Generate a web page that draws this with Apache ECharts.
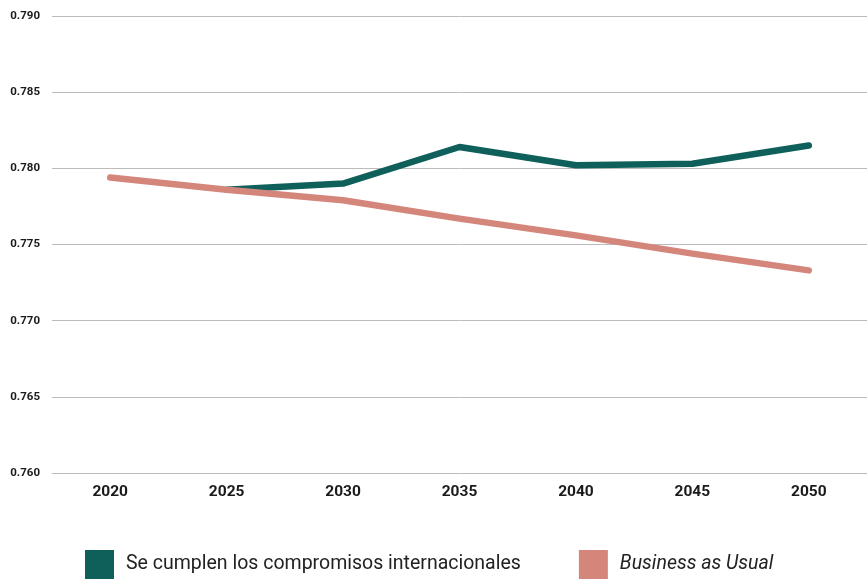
<!DOCTYPE html>
<html>
<head>
<meta charset="utf-8">
<script src="https://cdn.jsdelivr.net/npm/echarts@6/dist/echarts.min.js"></script>
<style>
html,body{margin:0;padding:0;background:#fff;}
#c{width:867px;height:580px;}
</style>
</head>
<body>
<div id="c"></div>
<script>
const years = ['2020','2025','2030','2035','2040','2045','2050'];
const compromisos = [null, 0.7786, 0.7790, 0.7814, 0.7802, 0.7803, 0.7815];
const business = [0.7794, 0.7786, 0.7779, 0.7767, 0.7756, 0.7744, 0.7733];
const yTicks = {min: 0.760, max: 0.790, interval: 0.005};
const names = ['Se cumplen los compromisos internacionales', 'Business as Usual'];

const chart = echarts.init(document.getElementById('c'));
chart.setOption({
  backgroundColor: '#ffffff',
  animation: false,
  textStyle: {fontFamily: 'Roboto'},
  grid: {left: 52, width: 819, top: 16, bottom: 107, containLabel: false},
  legend: {
    top: 550, left: 85, padding: 0,
    itemWidth: 29, itemHeight: 29, itemGap: 58,
    icon: 'rect',
    textStyle: {fontSize: 19.5, color: '#222', fontFamily: 'Roboto', padding: [5, 0, 0, 7]},
    data: [
      {name: names[0]},
      {name: names[1], textStyle: {fontStyle: 'italic'}}
    ]
  },
  xAxis: {
    type: 'category',
    data: years,
    boundaryGap: true,
    axisLine: {show: false},
    axisTick: {show: false},
    axisLabel: {fontSize: 15.5, fontWeight: 'bold', color: '#1a1a1a', margin: 11}
  },
  yAxis: {
    type: 'value',
    min: yTicks.min, max: yTicks.max, interval: yTicks.interval,
    axisLabel: {fontSize: 11.5, fontWeight: 'bold', color: '#1a1a1a', margin: 12,
      formatter: v => v.toFixed(3)},
    splitLine: {lineStyle: {color: '#bbbbbb', width: 1}},
    axisLine: {show: false},
    axisTick: {show: false}
  },
  series: [
    {name: names[0], type: 'line', data: compromisos, symbol: 'none', z: 2,
     color: '#0f5f5b', lineStyle: {width: 6.5, color: '#0f5f5b', cap: 'round', join: 'round'}},
    {name: names[1], type: 'line', data: business, symbol: 'none', z: 3,
     color: '#d4867b', lineStyle: {width: 6.5, color: '#d4867b', cap: 'round', join: 'round'}}
  ]
});
</script>
</body>
</html>
